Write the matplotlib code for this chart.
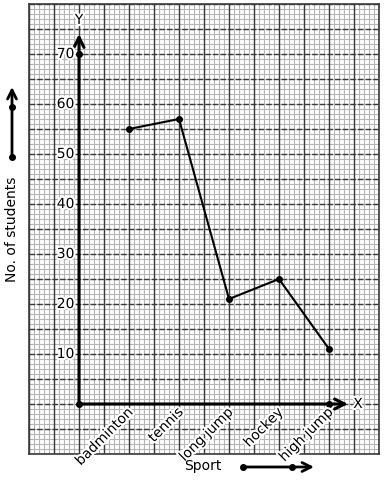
import matplotlib
matplotlib.use("Agg")
import matplotlib.pyplot as plt
import matplotlib.patheffects as pe
import numpy as np

# =========================================================
# DATA
# =========================================================

sports = ["badminton", "tennis", "long jump", "hockey", "high jump"]
students = [55, 57, 21, 25, 11]
y_ticks = [10, 20, 30, 40, 50, 60, 70]

MAJOR_COLOR = "#3a3a3a"
MINOR_COLOR = "#b5b5b5"
halo = [pe.withStroke(linewidth=3, foreground="white")]

# =========================================================
# FIGURE
# =========================================================

fig = plt.figure(figsize=(3.84, 4.8), dpi=100)
ax = fig.add_axes([29 / 384, 26 / 480, 350 / 384, 450 / 480])

ax.set_xlim(-1, 6)
ax.set_ylim(-10, 80)

# graph paper
for x in np.arange(-1, 6.001, 0.1):
    ax.axvline(x, color=MINOR_COLOR, lw=0.8, zorder=0)
for y in np.arange(-10, 80.001, 1):
    ax.axhline(y, color=MINOR_COLOR, lw=0.8, zorder=0)
for x in np.arange(-1, 6.001, 0.5):
    ax.axvline(x, color=MAJOR_COLOR, lw=1.0, zorder=1)
for y in np.arange(-10, 80.001, 5):
    ax.axhline(y, color=MAJOR_COLOR, lw=1.0, ls=(0, (4, 1.5)), zorder=1)

ax.set_xticks([])
ax.set_yticks([])
for spine in ax.spines.values():
    spine.set_color(MAJOR_COLOR)
    spine.set_linewidth(1.2)

# axes with arrows
ax.annotate("", xy=(0, 74), xytext=(0, 0),
            arrowprops=dict(arrowstyle="->", lw=2.2, color="black",
                            mutation_scale=18, shrinkA=0, shrinkB=0),
            zorder=5)
ax.annotate("", xy=(5.38, 0), xytext=(0, 0),
            arrowprops=dict(arrowstyle="->", lw=2.2, color="black",
                            mutation_scale=18, shrinkA=0, shrinkB=0),
            zorder=5)
ax.plot([0, 0, 5], [0, 70, 0], "o", color="black", ms=4, zorder=6)
ax.text(0, 76.8, "Y", ha="center", va="center", fontsize=10,
        path_effects=halo, zorder=7)
ax.text(5.58, 0, "X", ha="center", va="center", fontsize=10,
        path_effects=halo, zorder=7)

# y tick labels
for v in y_ticks:
    ax.text(-0.27, v, str(v), ha="center", va="center", fontsize=10,
            path_effects=halo, zorder=7)

# x tick labels
positions = np.arange(1, len(sports) + 1)
for xpos, name in zip(positions, sports):
    ax.text(xpos - 0.06, -0.2, name, ha="right", va="top", rotation=45,
            rotation_mode="anchor", fontsize=10, path_effects=halo,
            clip_on=False, zorder=7)

# data line
ax.plot(positions, students, "-o", color="black", lw=1.5, ms=4, zorder=6)

# axis titles with arrows outside the plot
fig.text(12 / 384, 1 - 229 / 480, "No. of students", rotation=90,
         ha="center", va="center", fontsize=10)
fig.text(203 / 384, 1 - 466 / 480, "Sport", ha="center", va="center",
         fontsize=10)

fig.patches.append(matplotlib.patches.FancyArrowPatch(
    (12 / 384, 1 - 157 / 480), (12 / 384, 1 - 87 / 480),
    transform=fig.transFigure, arrowstyle="->", lw=2, color="black",
    mutation_scale=16, shrinkA=0, shrinkB=0))
fig.patches.append(matplotlib.patches.FancyArrowPatch(
    (243 / 384, 1 - 467 / 480), (314 / 384, 1 - 467 / 480),
    transform=fig.transFigure, arrowstyle="->", lw=2, color="black",
    mutation_scale=16, shrinkA=0, shrinkB=0))
fig.lines.append(plt.Line2D([12 / 384, 12 / 384], [1 - 157 / 480, 1 - 107 / 480],
                            transform=fig.transFigure, ls="none", marker="o",
                            color="black", ms=4))
fig.lines.append(plt.Line2D([243 / 384, 292 / 384], [1 - 467 / 480, 1 - 467 / 480],
                            transform=fig.transFigure, ls="none", marker="o",
                            color="black", ms=4))

fig.savefig("out.png", dpi=100)
